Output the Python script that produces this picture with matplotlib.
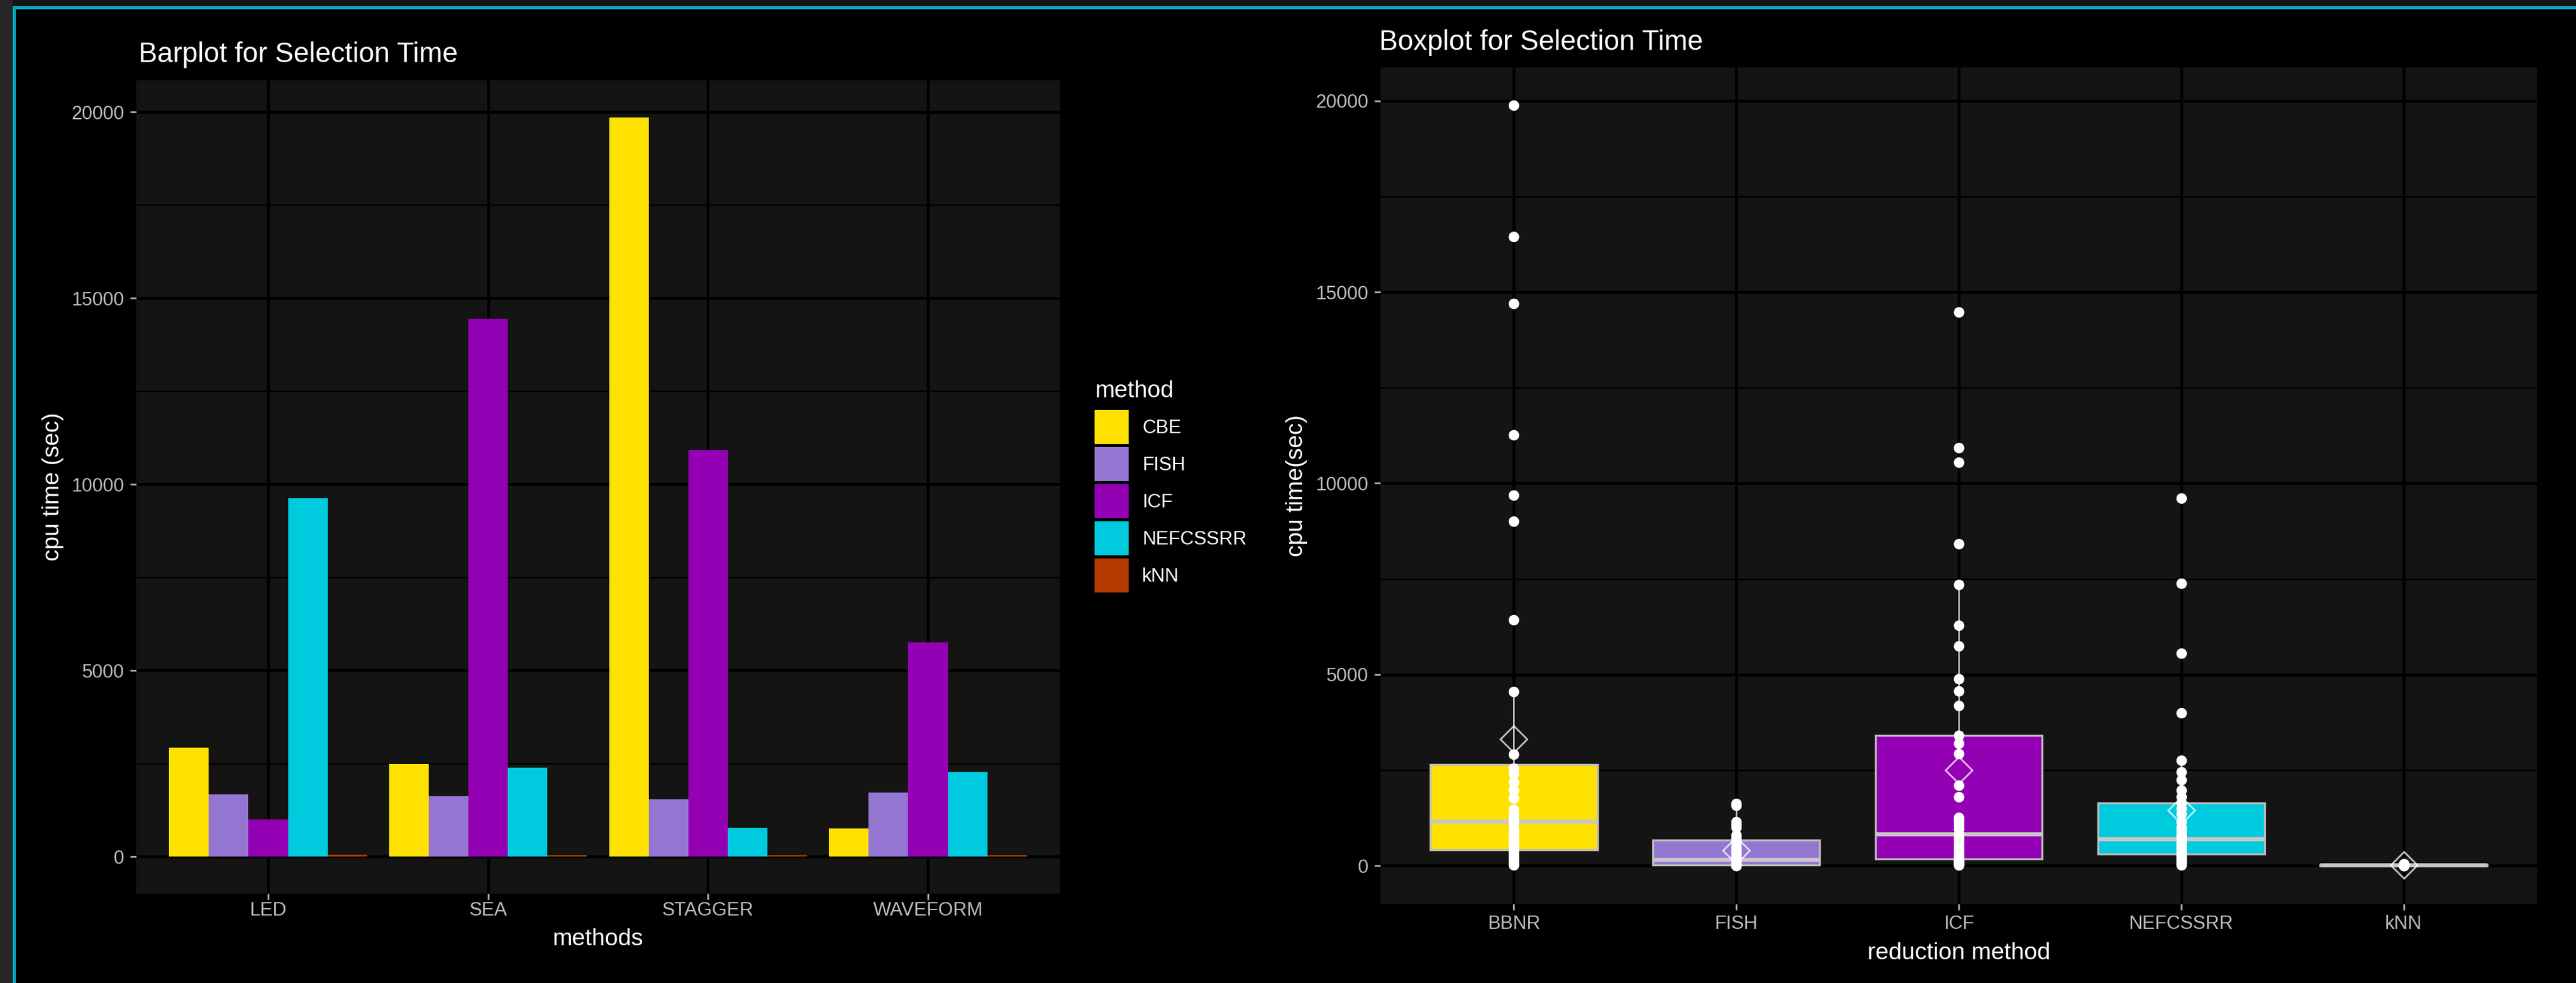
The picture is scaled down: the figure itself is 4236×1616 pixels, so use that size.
import numpy as np
import matplotlib
matplotlib.use('Agg')
import matplotlib.pyplot as plt
from matplotlib.patches import Patch, Rectangle

plt.rcParams['font.family'] = ['Liberation Sans', 'DejaVu Sans']

# --- barplot data (cpu time per dataset and method) ---
datasets = ['LED', 'SEA', 'STAGGER', 'WAVEFORM']
bar_methods = ['CBE', 'FISH', 'ICF', 'NEFCSSRR', 'kNN']
cbe = [2925, 2484, 19860, 758]
fish = [1675, 1624, 1539, 1716]
icf = [997, 14444, 10915, 5752]
nefcssrr = [9630, 2385, 775, 2271]
knn = [45, 40, 42, 38]

# --- boxplot data (all runs per reduction method) ---
box_methods = ['BBNR', 'FISH', 'ICF', 'NEFCSSRR', 'kNN']
bbnr_times = [16, 40, 90, 150, 200, 240, 290, 334, 375, 420, 500, 560, 648, 720,
              800, 900, 992, 1134, 1190, 1250, 1338, 1470, 1763, 1975, 2187, 2400,
              2545, 2914, 4549, 6420, 9010, 9690, 11270, 14700, 16450, 19880]
fish_times = [0, 2, 4, 6, 9, 12, 14, 17, 25, 45, 70, 95, 120, 140, 160, 220, 280,
              340, 420, 500, 610, 665, 728, 800, 1000, 1080, 1150, 1580, 1630]
icf_times = [10, 20, 35, 50, 70, 90, 110, 130, 150, 165, 180, 210, 260, 330, 400,
             480, 560, 650, 720, 780, 823, 950, 1050, 1150, 1200, 1258, 1800, 2100,
             2930, 3191, 3401, 4191, 4559, 4888, 5737, 6290, 7347, 8424, 10541,
             10924, 14474]
nefcssrr_times = [10, 30, 60, 90, 120, 160, 200, 240, 270, 302, 330, 360, 410, 460,
                  510, 560, 600, 650, 694, 720, 760, 820, 900, 1000, 1150, 1350,
                  1500, 1637, 1799, 1974, 2245, 2452, 2755, 3994, 5557, 7380, 9603]
knn_times = [2, 3, 4, 5, 5, 6, 7, 8, 9, 10, 11, 12, 14, 15, 16, 18, 20, 22, 25, 28,
             30, 34, 38, 42]

colors = ['#FFE100', '#9575D2', '#9400B4', '#00CADD', '#B23A00']

W, H = 4236, 1616


def fx(x):
    return x / W


def fy(y):
    return 1 - y / H


def style_axes(ax, xpad):
    ax.set_facecolor('#141414')
    for s in ax.spines.values():
        s.set_visible(False)
    ax.set_yticks([0, 5000, 10000, 15000, 20000])
    ax.set_yticklabels(['0', '5000', '10000', '15000', '20000'])
    ax.set_yticks([2500, 7500, 12500, 17500], minor=True)
    ax.grid(which='major', color='black', linewidth=3.6)
    ax.grid(which='minor', axis='y', color='black', linewidth=1.8)
    ax.set_axisbelow(True)
    ax.tick_params(which='major', length=7.2, width=2, color='#B0B0B0',
                   labelcolor='#BDBDBD', labelsize=22.5)
    ax.tick_params(which='minor', length=0)
    ax.tick_params(axis='x', pad=xpad)
    ax.tick_params(axis='y', pad=7)


fig = plt.figure(figsize=(W / 100, H / 100), dpi=100, facecolor='black')

# window frame
fig.add_artist(Rectangle((0, fy(10)), 1, 10 / H, transform=fig.transFigure,
                         color='#141414', lw=0))
fig.add_artist(Rectangle((0, 0), 21 / W, 1, transform=fig.transFigure,
                         color='#262626', lw=0))
fig.add_artist(Rectangle((fx(21), fy(15)), 1, 5 / H, transform=fig.transFigure,
                         color='#06A6C2', lw=0))
fig.add_artist(Rectangle((fx(21), 0), 5 / W, fy(10), transform=fig.transFigure,
                         color='#06A6C2', lw=0))

# ---- left: barplot ----
ax1 = fig.add_axes([fx(224), fy(1469), (1743 - 224) / W, (1469 - 132) / H])
style_axes(ax1, 2)
x = np.arange(1, len(datasets) + 1)
series = [cbe, fish, icf, nefcssrr, knn]
for i, (name, vals) in enumerate(zip(bar_methods, series)):
    ax1.bar(x + (i - 2) * 0.18, vals, width=0.18, color=colors[i], label=name,
            linewidth=0)
ax1.set_xticks(x)
ax1.set_xticklabels(datasets)
ax1.set_xlim(0.4, 4.6)
top = max(max(s) for s in series)
ax1.set_ylim(-0.05 * top, 1.05 * top)

fig.text(fx(228), fy(102), 'Barplot for Selection Time', color='white',
         fontsize=33, va='baseline', ha='left')
fig.text(fx(87), fy(800), 'cpu time (sec)', rotation=90, color='white',
         fontsize=28, va='center', ha='center')
fig.text(fx(983), fy(1554), 'methods', color='white', fontsize=28,
         va='baseline', ha='center')

handles = [Patch(facecolor=c, edgecolor='none') for c in colors]
leg = fig.legend(handles, bar_methods, loc='upper left',
                 bbox_to_anchor=(fx(1800), fy(625)), frameon=False,
                 title='method', fontsize=22.5, title_fontsize=28,
                 handlelength=1.78, handleheight=2.38, labelspacing=0.16,
                 handletextpad=0.72, borderpad=0, borderaxespad=0,
                 alignment='left')
leg._legend_box.sep = 9.5  # gap between title and keys
for t in leg.get_texts():
    t.set_color('white')
leg.get_title().set_color('white')

# ---- right: boxplot ----
ax2 = fig.add_axes([fx(2270), fy(1485.5), (4172 - 2270) / W, (1485.5 - 111) / H])
style_axes(ax2, 6)
box_data = [bbnr_times, fish_times, icf_times, nefcssrr_times, knn_times]
pos = np.arange(1, len(box_methods) + 1)
bp = ax2.boxplot(box_data, positions=pos, widths=0.75, patch_artist=True,
                 showmeans=True, showcaps=False, showfliers=False, whis=1.5,
                 boxprops=dict(edgecolor='#BEBEBE', linewidth=2.4),
                 medianprops=dict(color='#C8C8C8', linewidth=4.8),
                 whiskerprops=dict(color='#BEBEBE', linewidth=2),
                 meanprops=dict(marker='D', markerfacecolor='none',
                                markeredgecolor=(1, 1, 1, 0.75), markersize=22,
                                markeredgewidth=2))
for patch, c in zip(bp['boxes'], colors):
    patch.set_facecolor(c)
for p, vals in zip(pos, box_data):
    ax2.plot(np.full(len(vals), p), vals, 'o', color='white', markersize=12.5,
             markeredgewidth=0, zorder=3)
for m in bp['means']:
    m.set_zorder(4)
ax2.set_xticks(pos)
ax2.set_xticklabels(box_methods)
ax2.set_xlim(0.4, 5.6)
ymax = max(max(v) for v in box_data)
ax2.set_ylim(-0.05 * ymax, 1.05 * ymax)

fig.text(fx(2268), fy(82), 'Boxplot for Selection Time', color='white',
         fontsize=33, va='baseline', ha='left')
fig.text(fx(2132), fy(798), 'cpu time(sec)', rotation=90, color='white',
         fontsize=28, va='center', ha='center')
fig.text(fx(3221), fy(1577), 'reduction method', color='white', fontsize=28,
         va='baseline', ha='center')

fig.savefig('out.png', dpi=100, facecolor='black')
